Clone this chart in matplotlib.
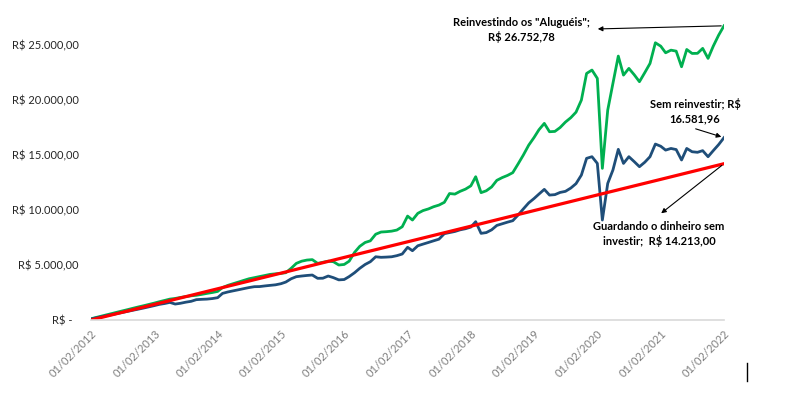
import pandas as pd
import matplotlib
matplotlib.use("Agg")
import matplotlib.pyplot as plt
from matplotlib.lines import Line2D
from matplotlib.ticker import FuncFormatter

plt.rcParams["font.family"] = ["Lato", "DejaVu Sans"]

# valores mensais de 01/02/2012 a 01/02/2022
reinvestindo = [
    110, 230, 350, 470, 590, 710, 830, 950, 1070, 1190,
    1300, 1420, 1540, 1660, 1780, 1900, 1960, 2050, 2130, 2200,
    2250, 2330, 2420, 2500, 2600, 2950, 3150, 3300, 3450, 3600,
    3750, 3850, 3950, 4050, 4150, 4200, 4240, 4300, 4700, 5150,
    5350, 5450, 5490, 5150, 5250, 5350, 5300, 5000, 5050, 5350,
    6150, 6700, 7050, 7200, 7800, 8000, 8030, 8080, 8180, 8480,
    9450, 9090, 9700, 9950, 10100, 10300, 10450, 10700, 11500, 11450,
    11700, 11900, 12200, 13030, 11580, 11750, 12100, 12700, 12950, 13150,
    13400, 14200, 15000, 15900, 16600, 17300, 17880, 17120, 17150, 17500,
    18000, 18400, 18900, 20000, 22420, 22730, 21970, 13790, 19090, 21520,
    24000, 22270, 22880, 22300, 21670, 22500, 23330, 25210, 24900, 24300,
    24540, 24450, 23030, 24600, 24240, 24250, 24700, 23790, 24900, 25900,
    26752.78,
]
sem_reinvestir = [
    90, 190, 290, 390, 490, 590, 690, 790, 890, 990,
    1090, 1200, 1310, 1420, 1500, 1600, 1450, 1520, 1620, 1700,
    1850, 1880, 1900, 1950, 2030, 2420, 2550, 2650, 2750, 2850,
    2950, 3030, 3040, 3100, 3150, 3200, 3300, 3450, 3750, 3940,
    4000, 4050, 4090, 3790, 3800, 4000, 3850, 3650, 3680, 3950,
    4300, 4700, 5050, 5300, 5750, 5700, 5720, 5750, 5850, 6000,
    6610, 6300, 6750, 6900, 7050, 7200, 7350, 7850, 7950, 8050,
    8200, 8300, 8450, 8940, 7880, 7950, 8200, 8600, 8750, 8900,
    9030, 9550, 10100, 10650, 11050, 11450, 11880, 11360, 11400, 11600,
    11700, 12000, 12400, 13180, 14700, 14850, 14240, 9090, 12420, 13640,
    15520, 14240, 14850, 14400, 13940, 14350, 14850, 16000, 15800, 15450,
    15600, 15500, 14550, 15600, 15300, 15250, 15400, 14850, 15400, 15950,
    16581.96,
]
# guardando o dinheiro: valores anuais (linha reta)
guardando = [0, 1420, 2840, 4260, 5690, 7110, 8530, 9950, 11370, 12790, 14213]

datas = pd.date_range("2012-02-01", periods=len(reinvestindo), freq="MS")
datas_anuais = pd.date_range("2012-02-01", periods=len(guardando), freq="12MS")

VERDE = "#00B050"
AZUL = "#1F4E79"
VERMELHO = "#FF0000"


def moeda(v, pos=None):
    if v == 0:
        return "R$ -  "
    s = f"{v:,.2f}".replace(",", "X").replace(".", ",").replace("X", ".")
    return f"R$ {s}"


fig = plt.figure(figsize=(7.87, 3.95), dpi=100)
ax = fig.add_axes([91 / 787, 1 - 320 / 395, 633 / 787, 320 / 395])

ax.plot(datas, reinvestindo, color=VERDE, lw=2.0, solid_joinstyle="round")
ax.plot(datas, sem_reinvestir, color=AZUL, lw=2.0, solid_joinstyle="round")
ax.plot(datas_anuais, guardando, color=VERMELHO, lw=2.3)

ax.set_xlim(datas[0], datas[-1])
ax.set_ylim(0, 29100)
ax.set_yticks([0, 5000, 10000, 15000, 20000, 25000])
ax.yaxis.set_major_formatter(FuncFormatter(moeda))
ax.set_xticks(datas_anuais)
ax.set_xticklabels([d.strftime("%d/%m/%Y") for d in datas_anuais],
                   rotation=45, ha="right", rotation_mode="anchor")

ax.tick_params(axis="y", length=0, pad=9, labelsize=8, labelcolor="#262626")
ax.tick_params(axis="x", length=0, pad=6, labelsize=8, labelcolor="#7F7F7F")
for lado in ["left", "right", "top"]:
    ax.spines[lado].set_visible(False)
ax.spines["bottom"].set_color("#D9D9D9")
ax.spines["bottom"].set_linewidth(1.2)


def fx(px):
    return (px - 91) / 633


def fy(py):
    return (320 - py) / 320


seta = dict(arrowstyle="-|>", color="black", lw=0.8, mutation_scale=7)

ax.text(fx(521), fy(30), "Reinvestindo os \"Aluguéis\";\nR$ 26.752,78",
        transform=ax.transAxes, ha="center", va="center", ma="center",
        fontsize=8, fontweight="bold", linespacing=1.3, clip_on=False)
ax.annotate("", xy=(fx(595), fy(29)), xycoords="axes fraction",
            xytext=(datas[-1], reinvestindo[-1]), textcoords="data",
            arrowprops=seta, annotation_clip=False)

ax.text(fx(695), fy(111), "Sem reinvestir; R$\n16.581,96",
        transform=ax.transAxes, ha="center", va="center", ma="center",
        fontsize=8, fontweight="bold", linespacing=1.3, clip_on=False)
ax.annotate("", xy=(datas[-1], sem_reinvestir[-1]), xycoords="data",
            xytext=(fx(693), fy(128)), textcoords="axes fraction",
            arrowprops=seta, annotation_clip=False)

ax.text(fx(659), fy(234), "Guardando o dinheiro sem\ninvestir;  R$ 14.213,00",
        transform=ax.transAxes, ha="center", va="center", ma="center",
        fontsize=8, fontweight="bold", linespacing=1.3, clip_on=False)
ax.annotate("", xy=(fx(659), fy(215)), xycoords="axes fraction",
            xytext=(datas_anuais[-1], guardando[-1]), textcoords="data",
            arrowprops=seta, annotation_clip=False)

# pequeno traço vertical no canto inferior direito
fig.add_artist(Line2D([747 / 787, 747 / 787], [1 - 363 / 395, 1 - 381 / 395],
                      color="black", lw=1.0))

fig.savefig("out.png", dpi=100)
